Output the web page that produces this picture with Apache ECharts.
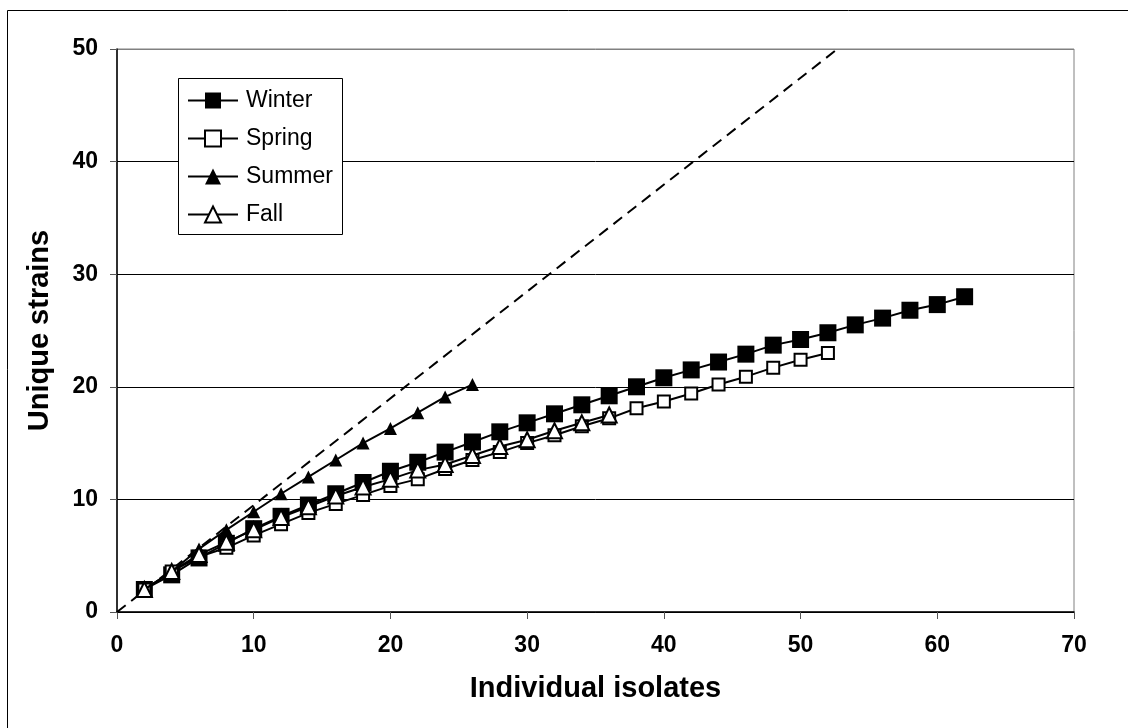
<!DOCTYPE html>
<html>
<head>
<meta charset="utf-8">
<script src="https://cdn.jsdelivr.net/npm/echarts@6/dist/echarts.min.js"></script>
<style>
html,body{margin:0;padding:0;background:#fff;}
#chart{width:1128px;height:728px;}
</style>
</head>
<body>
<div id="chart"></div>
<script>
// ---- data ----
const winterX = [2,4,6,8,10,12,14,16,18,20,22,24,26,28,30,32,34,36,38,40,42,44,46,48,50,52,54,56,58,60,62];
const winterY = [2,3.3,4.8,6.1,7.4,8.5,9.5,10.5,11.5,12.5,13.3,14.2,15.1,16.0,16.8,17.6,18.4,19.2,20.0,20.8,21.5,22.2,22.9,23.7,24.2,24.8,25.5,26.1,26.8,27.3,28.0];
const springX = [2,4,6,8,10,12,14,16,18,20,22,24,26,28,30,32,34,36,38,40,42,44,46,48,50,52];
const springY = [2,3.6,4.9,5.7,6.8,7.8,8.8,9.6,10.4,11.2,11.8,12.7,13.5,14.2,15.0,15.7,16.5,17.2,18.1,18.7,19.4,20.2,20.9,21.7,22.4,23.0];
const summerX = [2,4,6,8,10,12,14,16,18,20,22,24,26];
const summerY = [2,3.6,5.6,7.3,8.9,10.5,12.0,13.5,15.0,16.3,17.7,19.1,20.2];
const fallX = [2,4,6,8,10,12,14,16,18,20,22,24,26,28,30,32,34,36];
const fallY = [2,3.6,5.1,6.2,7.3,8.4,9.35,10.3,11.1,11.8,12.6,13.1,13.9,14.7,15.3,16.1,16.8,17.5];
const refLineX = [0,52.7];
const refLineY = [0,50];
const seriesNames = ['Winter','Spring','Summer','Fall'];
const xTicks = [0,10,20,30,40,50,60,70];
const yTicks = [0,10,20,30,40,50];
const xTitle = 'Individual isolates';
const yTitle = 'Unique strains';

const pairs = (xs, ys) => xs.map((x, i) => [x, ys[i]]);
const FONT = "'Liberation Sans', Arial, sans-serif";

const chart = echarts.init(document.getElementById('chart'), null, {renderer: 'canvas'});
const lineBase = {type: 'line', lineStyle: {color: '#000', width: 2}, emphasis: {disabled: true}, animation: false};

chart.setOption({
  backgroundColor: '#fff',
  animation: false,
  textStyle: {fontFamily: FONT},
  graphic: [
    {type: 'rect', z: 0, silent: true, shape: {x: 7.5, y: 10.5, width: 1130, height: 730},
     style: {fill: 'none', stroke: '#000', lineWidth: 1}},
    {type: 'rect', z: 50, silent: true, shape: {x: 178.5, y: 78.5, width: 164, height: 156},
     style: {fill: '#fff', stroke: '#000', lineWidth: 1}}
  ],
  grid: {left: 117, right: 54, top: 49, bottom: 116, show: true, borderColor: '#808080', borderWidth: 1, backgroundColor: 'transparent'},
  legend: {
    data: seriesNames,
    orient: 'vertical',
    left: 187, top: 89,
    padding: 0,
    itemWidth: 50, itemHeight: 20, itemGap: 15,
    z: 60,
    textStyle: {fontFamily: FONT, fontSize: 23, color: '#000', lineHeight: 23, padding: [0,0,0,3]},
    selectedMode: false
  },
  xAxis: {
    type: 'value', min: xTicks[0], max: xTicks[xTicks.length-1], interval: 10,
    name: xTitle, nameLocation: 'middle', nameGap: 62,
    nameTextStyle: {fontFamily: FONT, fontSize: 29, fontWeight: 'bold', color: '#000'},
    axisLine: {show: true, lineStyle: {color: '#000', width: 1.5}},
    axisTick: {show: true, length: 7, lineStyle: {color: '#555', width: 1}},
    axisLabel: {fontFamily: FONT, fontSize: 23, fontWeight: 'bold', color: '#000', margin: 22},
    splitLine: {show: false}
  },
  yAxis: {
    type: 'value', min: yTicks[0], max: yTicks[yTicks.length-1], interval: 10,
    name: yTitle, nameLocation: 'middle', nameGap: 63,
    nameTextStyle: {fontFamily: FONT, fontSize: 29, fontWeight: 'bold', color: '#000'},
    axisLine: {show: true, lineStyle: {color: '#000', width: 1.5}},
    axisTick: {show: true, length: 7, lineStyle: {color: '#555', width: 1}},
    axisLabel: {fontFamily: FONT, fontSize: 23, fontWeight: 'bold', color: '#000', margin: 19},
    splitLine: {show: true, lineStyle: {color: ['#000','#000','#000','#000','#000','#808080'], width: 1}}
  },
  series: [
    Object.assign({}, lineBase, {name: '_ref', data: pairs(refLineX, refLineY), symbol: 'none', z: 1,
      lineStyle: {color: '#000', width: 2, type: [11, 7]}}),
    Object.assign({}, lineBase, {name: seriesNames[0], data: pairs(winterX, winterY), symbol: 'rect', symbolSize: 17,
      itemStyle: {color: '#000', borderColor: '#000', borderWidth: 0}, z: 2}),
    Object.assign({}, lineBase, {name: seriesNames[1], data: pairs(springX, springY), symbol: 'rect', symbolSize: 12,
      itemStyle: {color: '#fff', borderColor: '#000', borderWidth: 2}, z: 3}),
    Object.assign({}, lineBase, {name: seriesNames[2], data: pairs(summerX, summerY), symbol: 'triangle', symbolSize: 13,
      itemStyle: {color: '#000', borderColor: '#000', borderWidth: 0}, z: 4}),
    Object.assign({}, lineBase, {name: seriesNames[3], data: pairs(fallX, fallY), symbol: 'triangle', symbolSize: 15,
      itemStyle: {color: '#fff', borderColor: '#000', borderWidth: 2}, z: 5})
  ]
});
</script>
</body>
</html>
